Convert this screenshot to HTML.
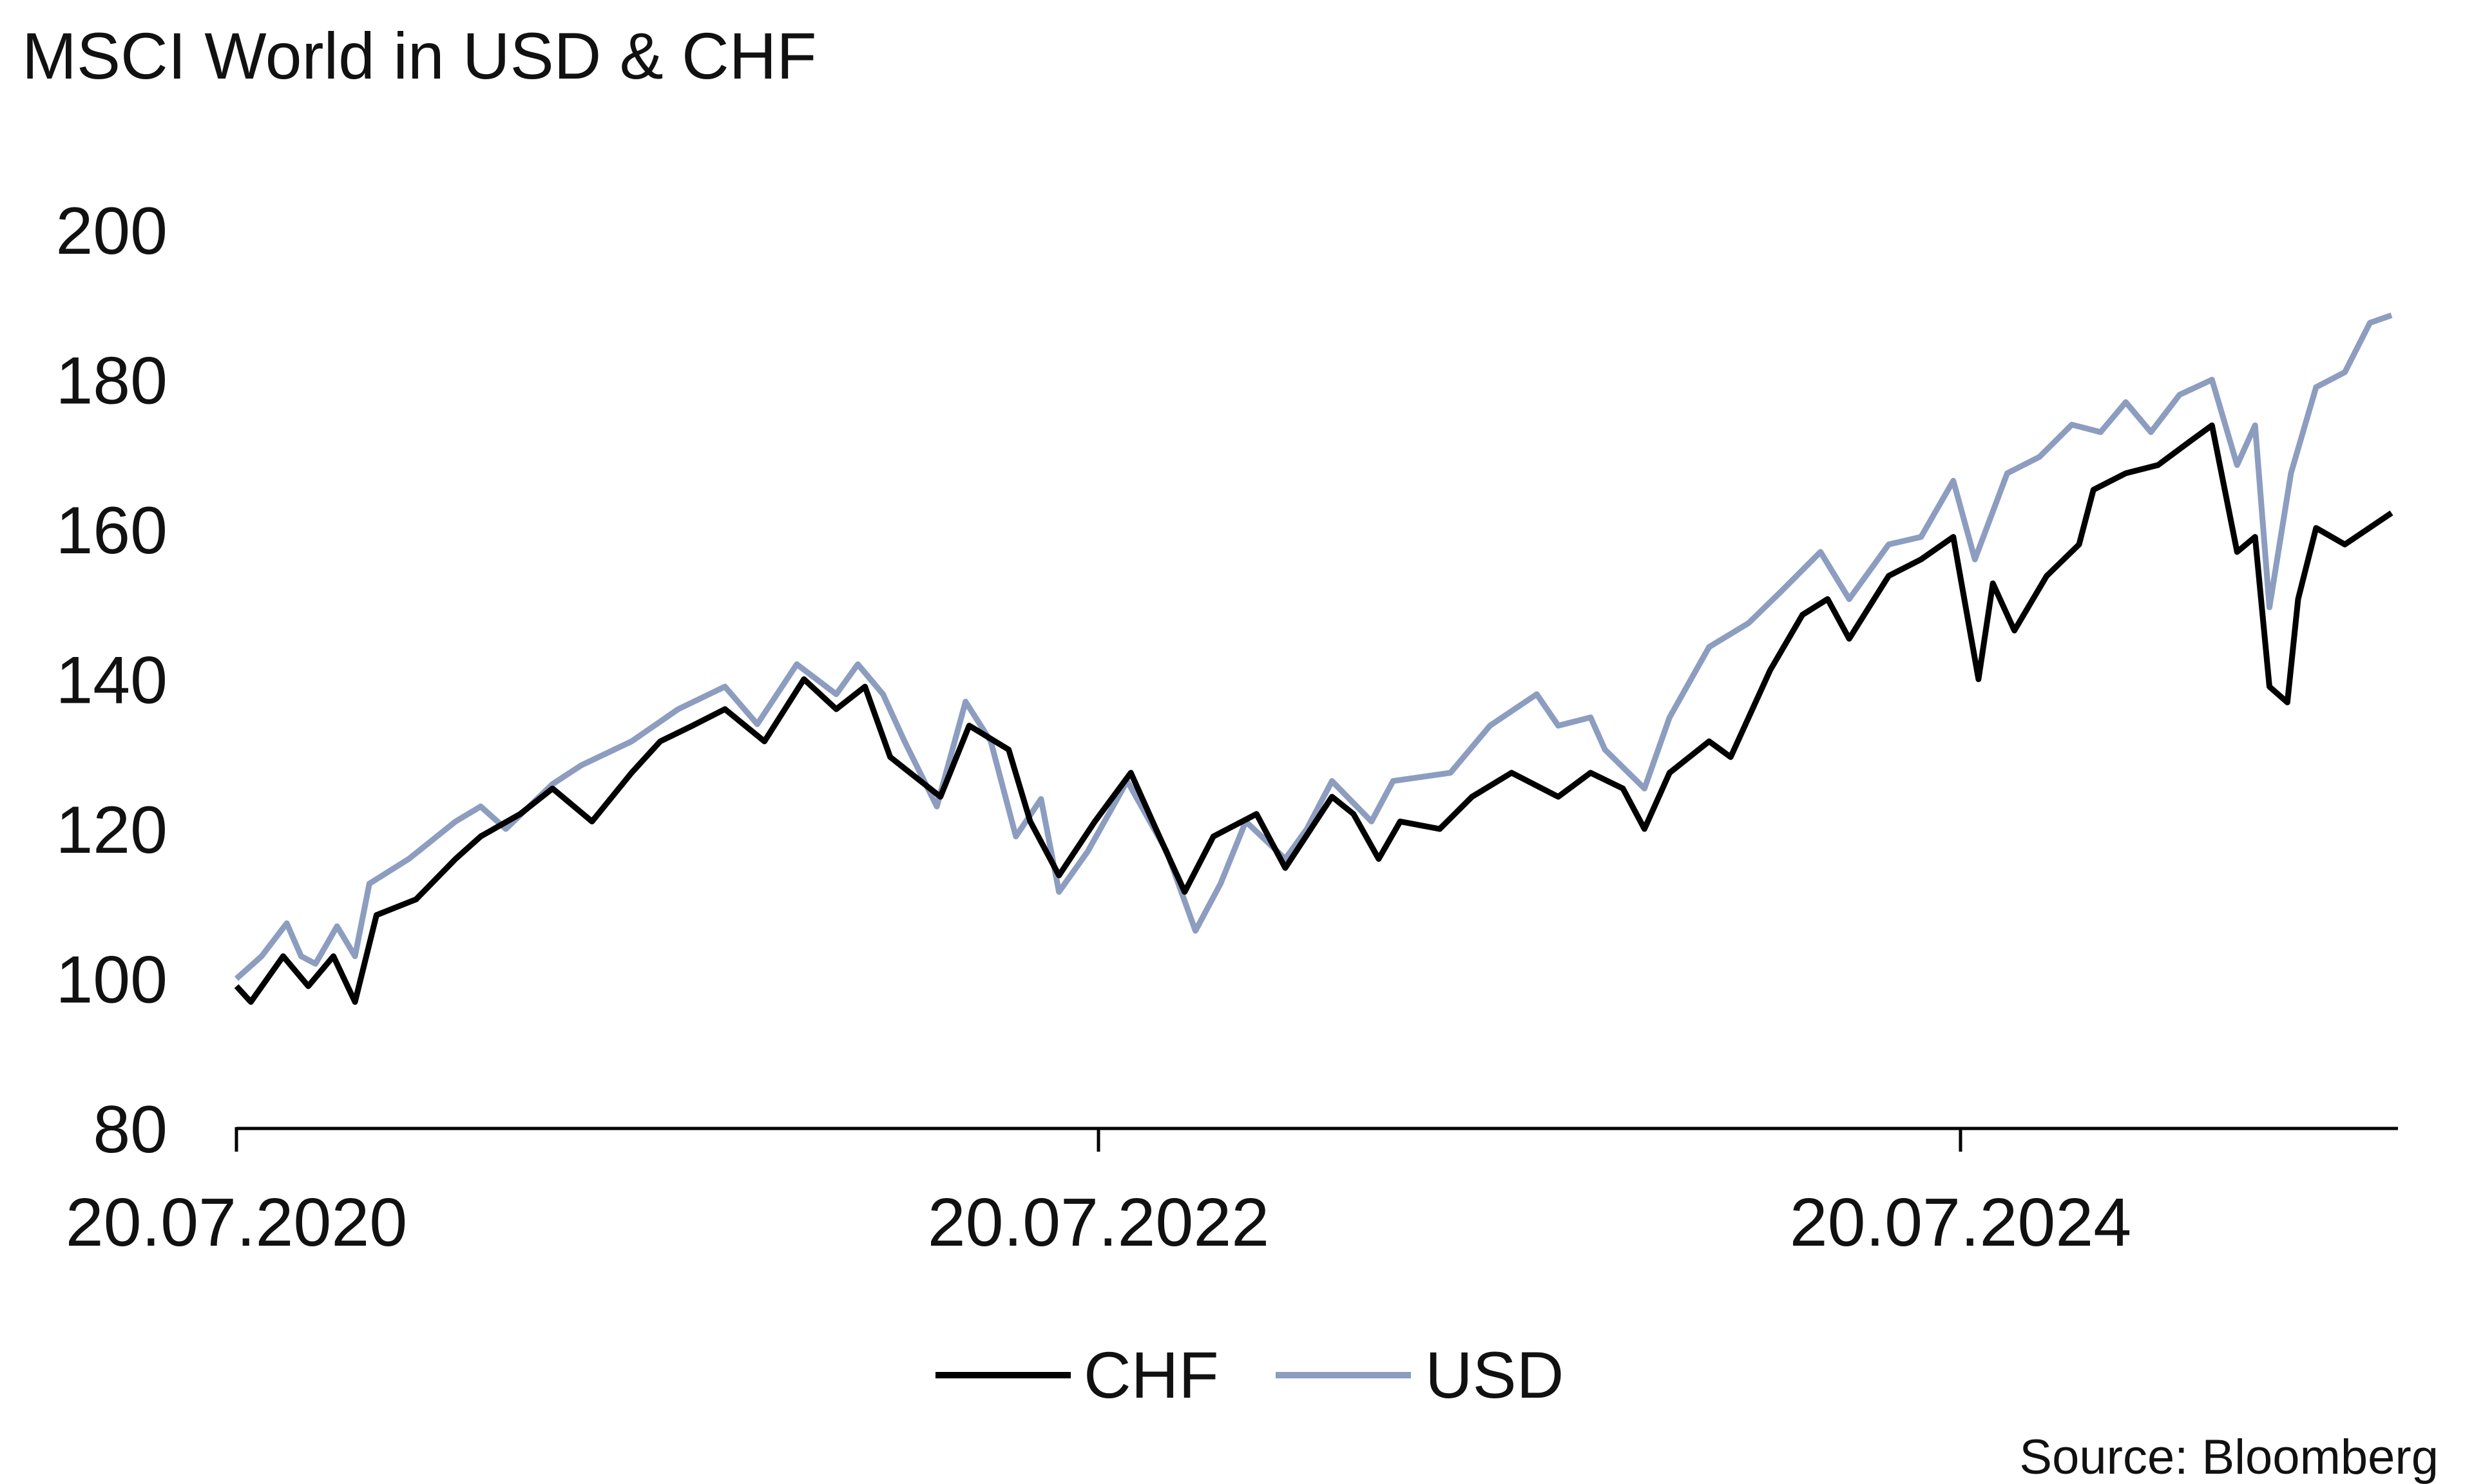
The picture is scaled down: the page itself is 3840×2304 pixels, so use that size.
<!DOCTYPE html>
<html><head><meta charset="utf-8"><style>
html,body{margin:0;padding:0;background:#fff;}
svg{display:block;font-family:"Liberation Sans",sans-serif;}
</style></head><body>
<svg id="chart" width="3840" height="2304" viewBox="0 0 3840 2304" xmlns="http://www.w3.org/2000/svg">
<rect width="3840" height="2304" fill="#fff"/>
<text x="34" y="122" font-size="102" fill="#111">MSCI World in USD &amp; CHF</text>
<g id="yaxis"></g>
<g id="xaxis"></g>
<g id="series"></g>
<g>
<line x1="1452" y1="2135" x2="1662" y2="2135" stroke="#000" stroke-width="10"/>
<text x="1682" y="2170" font-size="102" fill="#111">CHF</text>
<line x1="1980" y1="2135" x2="2190" y2="2135" stroke="#8c9dbf" stroke-width="10"/>
<text x="2212" y="2170" font-size="102" fill="#111">USD</text>
</g>
<text x="3785" y="2288" font-size="76" text-anchor="end" fill="#111">Source: Bloomberg</text>
</svg>
<script>
const yTicks=[80,100,120,140,160,180,200];
const xTickMonths=[0,24,48];
const xTickLabels=["20.07.2020","20.07.2022","20.07.2024"];
const usdMonths=[0,0.7,1.4,1.8,2.2,2.8,3.3,3.7,4.8,6.1,6.8,7.5,8.8,9.6,11.0,12.3,13.6,14.5,15.6,16.7,17.3,18.0,18.6,19.5,20.3,21.0,21.7,22.4,22.9,23.7,24.8,25.9,26.7,27.4,28.1,29.2,29.8,30.5,31.6,32.2,33.8,34.9,36.2,36.8,37.7,38.1,39.2,39.9,41.0,42.1,43.0,44.1,44.9,46.0,46.9,47.8,48.4,49.3,50.2,51.1,51.9,52.6,53.3,54.1,55.0,55.7,56.2,56.6,57.2,57.9,58.7,59.4,60.0];
const usdValues=[100,103,107.4,103,102,107,103,112.7,116,121,123,120,126,128.5,131.7,136,139,134,142,138,142,138,131.7,123,137,131.7,119,124,111.6,117,126.4,117,106.4,112.7,121,116,120,126.4,121,126.4,127.5,133.8,138,133.8,134.9,130.6,125.4,134.9,144.3,147.5,151.7,157,150.7,158,159,166.5,156,167.5,169.7,174,173,177,173,178,180,168.6,173.9,149.6,167.5,179,181,187.6,188.6];
const chfMonths=[0,0.4,1.3,2.0,2.7,3.3,3.9,5.0,6.1,6.8,7.9,8.8,9.9,11.0,11.8,12.7,13.6,14.7,15.8,16.7,17.5,18.2,19.6,20.4,21.5,22.1,22.9,23.9,24.9,25.6,26.4,27.2,28.4,29.2,30.5,31.1,31.8,32.4,33.5,34.4,35.5,36.8,37.7,38.6,39.2,39.9,41.0,41.6,42.7,43.6,44.3,44.9,46.0,46.9,47.8,48.5,48.9,49.5,50.4,51.3,51.7,52.6,53.5,54.4,55.0,55.7,56.2,56.6,57.1,57.4,57.9,58.7,60.0];
const chfValues=[99,96.9,103,99,103,96.9,108.5,110.6,116,119,122,125.4,121,127.5,131.7,133.8,136,131.7,140,136,139,129.6,124.3,133.8,130.6,121,113.8,121,127.5,120,111.6,119,122,114.8,124.3,122,116,121,120,124.3,127.5,124.3,127.5,125.4,120,127.5,131.7,129.6,141.2,148.6,150.7,145.4,153.8,156,159,140,152.8,146.5,153.8,158,165.3,167.5,168.6,171.8,173.9,157,159,139,136.9,150.7,160.2,158,162.2];

const NS="http://www.w3.org/2000/svg";
function xScale(m){return 367+m*(1705-367)/24;}
function yScale(v){return 1752-(v-80)*(1752-357)/120;}
const ya=document.getElementById('yaxis');
yTicks.forEach(v=>{
  const t=document.createElementNS(NS,'text');
  
  
  t.setAttribute('x',260);t.setAttribute('y',yScale(v)+37);
  t.setAttribute('font-size','104');t.setAttribute('text-anchor','end');t.setAttribute('fill','#111');
  t.textContent=v;ya.appendChild(t);
});
const xa=document.getElementById('xaxis');
const ax=document.createElementNS(NS,'line');


ax.setAttribute('x1',xScale(0));ax.setAttribute('x2',3722);ax.setAttribute('y1',1752);ax.setAttribute('y2',1752);
ax.setAttribute('stroke','#000');ax.setAttribute('stroke-width','5');xa.appendChild(ax);
xTickMonths.forEach((m,i)=>{
  const l=document.createElementNS(NS,'line');
  
  
  l.setAttribute('x1',xScale(m));l.setAttribute('x2',xScale(m));l.setAttribute('y1',1750);l.setAttribute('y2',1788);
  l.setAttribute('stroke','#000');l.setAttribute('stroke-width','5');xa.appendChild(l);
  const t=document.createElementNS(NS,'text');
  
  
  t.setAttribute('x',xScale(m));t.setAttribute('y',1934);
  t.setAttribute('font-size','106');t.setAttribute('text-anchor','middle');t.setAttribute('fill','#111');
  t.textContent=xTickLabels[i];xa.appendChild(t);
});
const sg=document.getElementById('series');
function draw(ms,vs,color,name){
  const p=document.createElementNS(NS,'path');
  
  
  p.setAttribute('d',ms.map((m,i)=>(i?'L':'M')+xScale(m).toFixed(1)+','+yScale(vs[i]).toFixed(1)).join(''));
  p.setAttribute('fill','none');p.setAttribute('stroke',color);p.setAttribute('stroke-width','9');
  p.setAttribute('stroke-linejoin','round');sg.appendChild(p);
}
draw(usdMonths,usdValues,'#8c9dbf','usd-line');
draw(chfMonths,chfValues,'#000','chf-line');
</script>
</body></html>
